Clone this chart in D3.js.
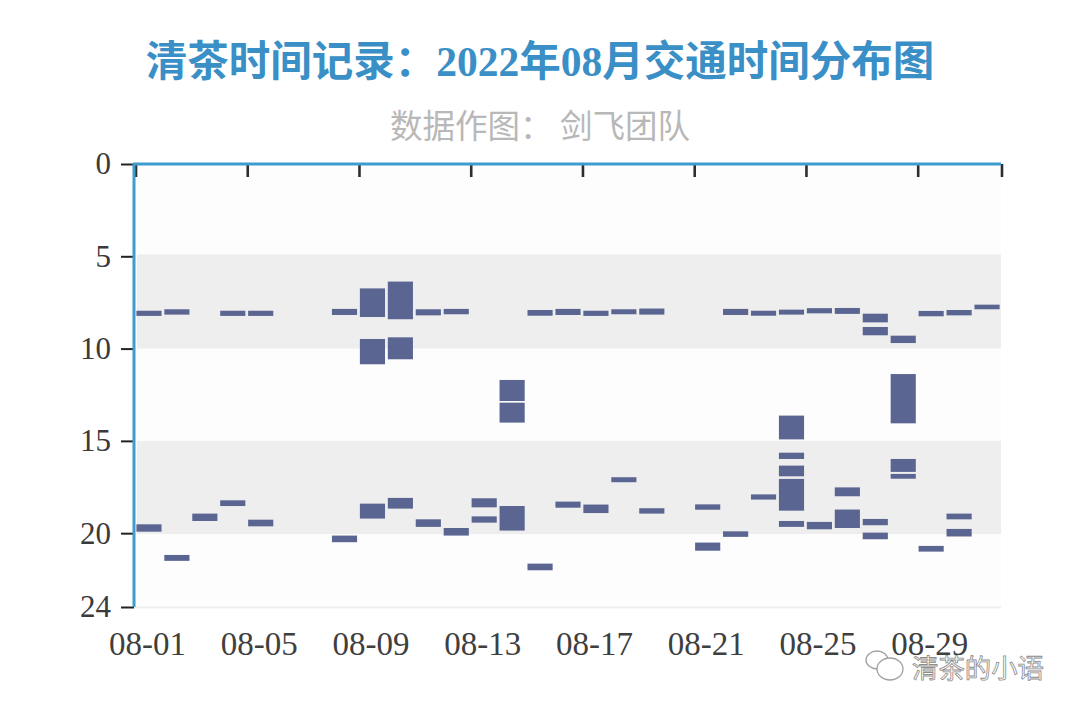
<!DOCTYPE html>
<html>
<head>
<meta charset="utf-8">
<script src="https://cdn.jsdelivr.net/npm/d3@7/dist/d3.min.js"></script>
<style>
html,body{margin:0;padding:0;background:#fff}
svg{display:block}
.cjk{font-family:"Noto Sans CJK SC",sans-serif}
</style>
</head>
<body>
<svg id="c" width="1080" height="715"></svg>
<script>
const titleRuns = [["清茶时间记录：",1],["2022",0],["年",1],["08",0],["月交通时间分布图",1]];
const subtitleText = "数据作图： 剑飞团队";
const watermarkText = "清茶的小语";
const days = d3.range(1,32).map(d => "08-" + String(d).padStart(2,"0"));
const tickLabels = ["08-01","08-05","08-09","08-13","08-17","08-21","08-25","08-29"];
const yTicks = [0,5,10,15,20,24];
const shadedBands = [[4.9,10],[15,20.05]];

const segDay = [1,2,4,5,8,9,9,10,10,11,12,15,16,17,18,19,22,23,24,25,26,27,27,28,29,30,31,
  14,14,28,
  24,24,24,24,24,
  1,2,3,4,5,8,9,10,11,12,13,13,14,15,16,17,18,19,21,21,22,23,25,26,26,27,27,28,28,29,30,30];
const segStart = [7.95,7.87,7.95,7.95,7.85,6.74,9.48,6.37,9.39,7.87,7.85,7.91,7.85,7.95,7.87,7.83,7.85,7.95,7.89,7.81,7.8,8.11,8.83,9.3,7.96,7.91,7.62,
  11.7,12.93,11.38,
  13.63,15.64,16.34,17.06,19.34,
  19.52,21.18,18.94,18.22,19.27,20.13,18.4,18.09,19.25,19.72,18.11,19.09,18.53,21.65,18.29,18.45,16.97,18.65,18.44,20.51,19.9,17.9,19.39,17.52,18.72,19.23,19.97,15.98,16.79,20.69,18.94,19.77];
const segEnd = [8.23,8.16,8.23,8.23,8.18,8.29,10.85,8.41,10.58,8.2,8.14,8.22,8.18,8.23,8.14,8.16,8.18,8.22,8.16,8.09,8.12,8.58,9.28,9.7,8.25,8.2,7.87,
  12.84,14.01,14.05,
  14.92,15.98,16.92,18.78,19.66,
  19.92,21.5,19.34,18.53,19.63,20.49,19.21,18.67,19.66,20.13,18.6,19.43,19.86,22.01,18.62,18.91,17.24,18.94,18.73,20.95,20.2,18.18,19.79,18,19.72,19.57,20.33,16.68,17.05,21,19.25,20.18];

const svg = d3.select("#c");
const L = 135, R = 1001, T = 164, B = 607;
const x = d3.scaleBand().domain(days).range([L,R]).paddingInner(0.1).paddingOuter(0.05);
const xTick = d3.scaleLinear().domain([0,31]).range([L,R]);
const y = d3.scaleLinear().domain([0,24]).range([T,B]);
const serif = '"Liberation Serif",serif';

// plot background
svg.append("rect").attr("x",L).attr("y",T).attr("width",R-L).attr("height",B-T).attr("fill","#fdfdfd");
svg.selectAll("rect.band").data(shadedBands).join("rect").attr("class","band")
  .attr("x",L+2).attr("width",R-L-2)
  .attr("y",d=>y(d[0])).attr("height",d=>y(d[1])-y(d[0]))
  .attr("fill","#eeeeee");
svg.append("line").attr("x1",L).attr("x2",R).attr("y1",B+0.5).attr("y2",B+0.5).attr("stroke","#ececec").attr("stroke-width",1.5);

// bars
svg.selectAll("rect.seg").data(segDay.map((d,i)=>({day:days[d-1],s:segStart[i],e:segEnd[i]})))
  .join("rect").attr("class","seg")
  .attr("x",d=>x(d.day)).attr("width",x.bandwidth())
  .attr("y",d=>y(d.s)).attr("height",d=>y(d.e)-y(d.s))
  .attr("fill","#5a6592");

// top axis ticks
const topAxis = svg.append("g").attr("transform",`translate(0.5,${T})`)
  .call(d3.axisBottom(xTick).tickValues([0,4,8,12,16,20,24,28,31]).tickSize(13).tickFormat(""));
topAxis.select(".domain").remove();
topAxis.selectAll("line").attr("stroke","#2b2f33").attr("stroke-width",2.6);
topAxis.selectAll("text").remove();

// left axis ticks and labels
const leftAxis = svg.append("g").attr("transform",`translate(${L-1},0)`)
  .call(d3.axisLeft(y).tickValues(yTicks).tickSize(13).tickPadding(10));
leftAxis.select(".domain").remove();
leftAxis.selectAll("line").attr("stroke","#222").attr("stroke-width",2);
leftAxis.selectAll("text").attr("font-family",serif).attr("font-size",31).attr("fill","#3a3a3a");

// blue spines
svg.append("line").attr("x1",L-2).attr("x2",R).attr("y1",T).attr("y2",T).attr("stroke","#3d9ccf").attr("stroke-width",3);
svg.append("line").attr("x1",L-1).attr("x2",L-1).attr("y1",T).attr("y2",B).attr("stroke","#3d9ccf").attr("stroke-width",3);

// x labels
const bottomAxis = svg.append("g").attr("transform",`translate(-1.5,${B})`)
  .call(d3.axisBottom(x).tickValues(tickLabels).tickSize(0).tickPadding(25));
bottomAxis.select(".domain").remove();
bottomAxis.selectAll("text").attr("font-family",serif).attr("font-size",33).attr("fill","#3f3f3f");

// title
const title = svg.append("text").attr("x",540).attr("y",76).attr("text-anchor","middle")
  .attr("fill","#3a8fc6").attr("font-size",41.5).attr("font-weight",700);
title.selectAll("tspan").data(titleRuns).join("tspan")
  .attr("font-family",d=>d[1]?'"Noto Sans CJK SC",sans-serif':serif)
  .text(d=>d[0]);
svg.append("text").attr("class","cjk").attr("x",540).attr("y",138).attr("text-anchor","middle")
  .attr("fill","#b8b8b8").attr("font-size",32.5).text(subtitleText);

// watermark
const wm = svg.append("g");
wm.append("ellipse").attr("cx",877).attr("cy",660).attr("rx",11).attr("ry",9).attr("fill","#fff").attr("stroke","#a0a0a0").attr("stroke-width",1.3);
wm.append("ellipse").attr("cx",890).attr("cy",669).attr("rx",13).attr("ry",11).attr("fill","#fff").attr("stroke","#a0a0a0").attr("stroke-width",1.3);
wm.append("text").attr("class","cjk").attr("x",912).attr("y",678).attr("font-size",26.4)
  .attr("fill","#fff").attr("stroke","#8c8c8c").attr("stroke-width",0.8).text(watermarkText);
</script>
</body>
</html>
